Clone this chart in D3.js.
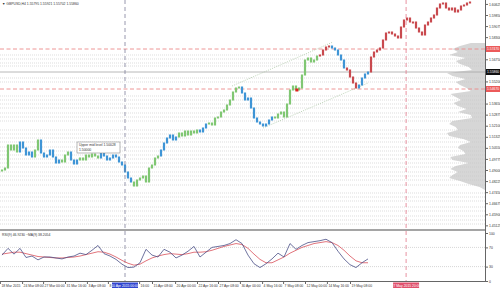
<!DOCTYPE html>
<html>
<head>
<meta charset="utf-8">
<script src="https://d3js.org/d3.v7.min.js"></script>
<style>
  body { margin: 0; background: #fff; }
  text { font-family: "Liberation Sans", Arial, sans-serif; }
</style>
</head>
<body>
<div id="chart"></div>
<script>
// H4 closes (real bars), one per bar
var closes = [
  1.4900, 1.4914, 1.5075, 1.5040, 1.5075, 1.5026, 1.5096, 1.5054, 1.5005, 1.5026,
  1.4991, 1.5040, 1.5110, 1.5019, 1.4991, 1.5005, 1.5040, 1.4991, 1.4949, 1.4970,
  1.4956, 1.5005, 1.5026, 1.4970, 1.4942, 1.4970, 1.4984, 1.4970, 1.5005, 1.4991,
  1.5012, 1.4998, 1.4984, 1.5019, 1.4998, 1.4970, 1.4984, 1.5005, 1.4991, 1.4956,
  1.4935, 1.4886, 1.4844, 1.4816, 1.4788, 1.4830, 1.4844, 1.4858, 1.4816, 1.4914,
  1.4935, 1.4984, 1.4998, 1.5040, 1.5089, 1.5124, 1.5145, 1.5110, 1.5131, 1.5159,
  1.5138, 1.5173, 1.5145, 1.5173, 1.5159, 1.5180, 1.5166, 1.5194, 1.5222, 1.5229,
  1.5215, 1.5264, 1.5271, 1.5306, 1.5320, 1.5355, 1.5390, 1.5446, 1.5474, 1.5481,
  1.5439, 1.5390, 1.5404, 1.5334, 1.5264, 1.5236, 1.5222, 1.5208, 1.5222, 1.5250,
  1.5271, 1.5264, 1.5292, 1.5306, 1.5271, 1.5362, 1.5460, 1.5488, 1.5460, 1.5474,
  1.5565, 1.5670, 1.5684, 1.5656, 1.5670, 1.5698, 1.5705, 1.5740, 1.5761, 1.5768,
  1.5754, 1.5740, 1.5705, 1.5670, 1.5614, 1.5600, 1.5551, 1.5509, 1.5474, 1.5495,
  1.5544, 1.5572, 1.5586
];
// projected bars drawn after the last real bar
var projection = [
  1.5691, 1.5726, 1.5740, 1.5754, 1.5810, 1.5859, 1.5866, 1.5852, 1.5838, 1.5824,
  1.5901, 1.5950, 1.5964, 1.5936, 1.5936, 1.5894, 1.5866, 1.5845, 1.5915, 1.5936,
  1.5964, 1.5985, 1.6034, 1.6062, 1.6069, 1.6034, 1.6020, 1.6034, 1.6006, 1.6020,
  1.6048, 1.6055, 1.6069, 1.6076
];
// trend state changes: [first bar index, state]
var trendSegments = [
  [0, "up"], [6, "down"], [11, "up"], [13, "down"], [20, "up"], [23, "down"],
  [26, "up"], [33, "down"], [44, "up"], [53, "down"], [59, "up"], [66, "down"],
  [69, "up"], [80, "down"], [91, "up"], [106, "alt"], [110, "down"], [115, "alt"],
  [119, "down"]
];

var rsi = [
  54, 68, 56, 68, 49, 52, 44, 50, 50, 48, 46, 50, 52, 58, 55, 64, 74, 57, 52, 45,
  35, 28, 29, 38, 66, 54, 50, 66, 60, 48, 54, 62, 72, 50, 60, 70, 72, 74, 78, 86,
  78, 54, 36, 28, 36, 46, 58, 50, 78, 66, 74, 80, 82, 84, 87, 80, 62, 46, 34, 28,
  38, 46
];
var rsiMa = [
  56, 58, 60, 60, 57, 54, 51, 50, 49, 48, 48, 49, 50, 52, 55, 58, 61, 60, 56, 50,
  43, 37, 33, 35, 42, 48, 52, 55, 57, 56, 55, 57, 60, 60, 61, 64, 68, 72, 75, 78,
  76, 68, 56, 45, 38, 38, 44, 50, 58, 64, 70, 74, 78, 80, 82, 80, 74, 64, 52, 42,
  38, 38
];
var rsiStep = 2; // one RSI sample every 2 bars
var rsiLevels = [70, 30];
var rsiTicks = [100, 70, 30, 0];

var priceTicks = [
  1.60625, 1.59850, 1.59075, 1.58300, 1.57525, 1.56750, 1.55975, 1.55200, 1.54425,
  1.53650, 1.52875, 1.52100, 1.51325, 1.50550, 1.49775, 1.49000, 1.48225, 1.47450,
  1.46675, 1.45900, 1.45125
];
// labels partly hidden behind the vertical-line time box show only their visible part
var timeTickIdx = [-0.7, 6.7, 13.7, 21, 28.3, 35.3, 45.7, 50, 57.7, 65, 72, 79.3, 86.7, 93.7, 101, 108.3, 116];
var timeLabels = [
  "18 Mar 2015", "24 Mar 08:00", "27 Mar 00:00", "31 Mar 16:00", "3 Apr 08:00",
  "8", "16:00", "15 Apr 08:00", "20 Apr 00:00", "22 Apr 16:00",
  "27 Apr 08:00", "30 Apr 00:00", "4 May 16:00", "7 May 08:00", "12 May 00:00",
  "14 May 16:00", "19 May 08:00"
];

var dottedLevels = [
  1.5705, 1.5677, 1.5649, 1.5628, 1.5544, 1.5516, 1.5418, 1.5390, 1.5362, 1.5334,
  1.5299, 1.5271, 1.5243, 1.5180, 1.5152, 1.5124, 1.5096, 1.5061, 1.5033, 1.5005,
  1.4977, 1.4949, 1.4921, 1.4886, 1.4858, 1.4830, 1.4795, 1.4739, 1.4711, 1.4683,
  1.4641, 1.4613, 1.4578, 1.4550, 1.4522
];
var redLevels = [1.5747, 1.5467];
var bidLevel = 1.5586;

var profilePrice = [
  1.5789, 1.5768, 1.5747, 1.5726, 1.5705, 1.5684, 1.5663, 1.5642, 1.5621, 1.5600,
  1.5579, 1.5558, 1.5537, 1.5516, 1.5495, 1.5474, 1.5453, 1.5432, 1.5411, 1.5390,
  1.5369, 1.5348, 1.5327, 1.5306, 1.5285, 1.5264, 1.5243, 1.5222, 1.5201, 1.5180,
  1.5159, 1.5138, 1.5117, 1.5096, 1.5075, 1.5054, 1.5033, 1.5012, 1.4991, 1.4970,
  1.4949, 1.4928, 1.4907, 1.4886, 1.4865, 1.4844, 1.4823, 1.4802, 1.4781, 1.4760
];
var profileCount = [
  13, 23, 30, 25, 33, 18, 27, 23, 15, 12, 35, 30, 18, 27, 23, 17, 13, 32, 27, 22,
  29, 25, 17, 25, 13, 12, 30, 33, 27, 25, 35, 33, 20, 13, 23, 25, 20, 18, 32, 30,
  15, 27, 32, 25, 30, 33, 23, 15, 5, 0
];

var channelUpper = [[76.7, 1.5488], [110.3, 1.5796]];
var channelLower = [[87, 1.5194], [122, 1.5509]];
var marker = [98.3, 1.5460];
var vLineIdx = [41, 134.7];
var vLineLabels = ["10 Apr 2015 00:00", "27 May 2015 20:00"];

var title = "\u25BC GBPUSD,H4  1.55795 1.55921 1.55702 1.55860";
var rsiTitle = "RSI(9) 46.9230  ~MA(9) 38.2054";
var note = ["Upper mid level 1.50028", "1.50000"];

// ---------------------------------------------------------------
var width = 500, height = 288,
    plotRight = 485, mainBottom = 229, rsiTop = 233, rsiBottom = 281,
    fs = 3.4;

var svg = d3.select("#chart").append("svg")
    .attr("width", width).attr("height", height);

var x = d3.scaleLinear().domain([0, 156]).range([2, 470]);
var y = d3.scaleLinear().domain([1.4487, 1.6090]).range([mainBottom, 0]);
var yr = d3.scaleLinear().domain([0, 100]).range([rsiBottom, rsiTop]);
var xp = d3.scaleLinear().domain([0, 35]).range([plotRight, plotRight - 38]);

var trendColor = d3.scaleOrdinal()
    .domain(["up", "down", "alt"])
    .range(["#80c773", "#3f95d6", "#c94a4f"]);

function trendAt(i) {
  var s = "up";
  trendSegments.forEach(function(t) { if (t[0] <= i) s = t[1]; });
  return s;
}

svg.append("clipPath").attr("id", "mainclip")
  .append("rect").attr("x", 0).attr("y", 0).attr("width", plotRight).attr("height", mainBottom);

var main = svg.append("g").attr("clip-path", "url(#mainclip)");

// volume profile
main.append("path")
  .datum(profilePrice.map(function(p, i) { return [p, profileCount[i]]; }))
  .attr("fill", "#d6d6d6")
  .attr("d", d3.area()
    .y(function(d) { return y(d[0]); })
    .x0(plotRight)
    .x1(function(d) { return xp(d[1]); }));

// dotted levels
main.selectAll(".lvl").data(dottedLevels).enter().append("line")
  .attr("x1", 0).attr("x2", plotRight)
  .attr("y1", function(d) { return y(d); }).attr("y2", function(d) { return y(d); })
  .attr("stroke", "#c6c6c6").attr("stroke-width", 0.6).attr("stroke-dasharray", "1,1");

// bid line
main.append("line")
  .attr("x1", 0).attr("x2", plotRight).attr("y1", y(bidLevel)).attr("y2", y(bidLevel))
  .attr("stroke", "#a6a6a6").attr("stroke-width", 0.8);

// red dashed levels
main.selectAll(".red").data(redLevels).enter().append("line")
  .attr("x1", 0).attr("x2", plotRight)
  .attr("y1", function(d) { return y(d); }).attr("y2", function(d) { return y(d); })
  .attr("stroke", "#ec8a8a").attr("stroke-width", 0.9).attr("stroke-dasharray", "4,2.5");

// channel
[channelUpper, channelLower].forEach(function(c) {
  main.append("line")
    .attr("x1", x(c[0][0])).attr("y1", y(c[0][1]))
    .attr("x2", x(c[1][0])).attr("y2", y(c[1][1]))
    .attr("stroke", "#9fbf98").attr("stroke-width", 0.7).attr("stroke-dasharray", "1,1.3");
});

// vertical lines
svg.selectAll(".vl").data(vLineIdx).enter().append("line")
  .attr("x1", function(d) { return x(d); }).attr("x2", function(d) { return x(d); })
  .attr("y1", 0).attr("y2", rsiBottom)
  .attr("stroke", function(d, i) { return i ? "#e2778a" : "#7f7f9a"; })
  .attr("stroke-width", 0.8).attr("stroke-dasharray", "4,3");

// bars
var bars = closes.map(function(c, i) {
  return { i: i, open: i ? closes[i - 1] : c, close: c, trend: trendAt(i) };
});
projection.forEach(function(c, k) {
  bars.push({ i: closes.length + k,
              open: k ? projection[k - 1] : closes[closes.length - 1],
              close: c, trend: "alt" });
});

main.selectAll(".bar").data(bars).enter().append("rect")
  .attr("x", function(d) { return x(d.i) - 1.1; })
  .attr("width", 2.2)
  .attr("y", function(d) { return y(Math.max(d.open, d.close)) - 0.5; })
  .attr("height", function(d) { return Math.max(1, Math.abs(y(d.open) - y(d.close))) + 1; })
  .attr("fill", function(d) { return trendColor(d.trend); });

main.append("rect")
  .attr("x", x(marker[0]) - 1.5).attr("y", y(marker[1]) - 1.5)
  .attr("width", 3).attr("height", 3).attr("fill", "#e02020");

// note box
var nb = main.append("g").attr("transform", "translate(" + x(25) + "," + y(1.5096) + ")");
nb.append("rect").attr("width", 43).attr("height", 11)
  .attr("fill", "#fff").attr("stroke", "#8a8a8a").attr("stroke-width", 0.6);
nb.selectAll("text").data(note).enter().append("text")
  .attr("x", 2).attr("y", function(d, i) { return 4.3 + i * 4.3; })
  .attr("font-size", fs).attr("fill", "#333").text(function(d) { return d; });

// title
svg.append("text").attr("x", 2).attr("y", 5).attr("font-size", fs).attr("fill", "#333").text(title);

// separator
svg.append("rect").attr("x", 0).attr("y", mainBottom).attr("width", plotRight).attr("height", 2)
  .attr("fill", "#a5a5a5");

// RSI panel
svg.selectAll(".rl").data(rsiLevels).enter().append("line")
  .attr("x1", 0).attr("x2", plotRight)
  .attr("y1", function(d) { return yr(d); }).attr("y2", function(d) { return yr(d); })
  .attr("stroke", "#bbbbbb").attr("stroke-width", 0.6).attr("stroke-dasharray", "1,1");

svg.append("path").datum(rsiMa)
  .attr("fill", "none").attr("stroke", "#d9505a").attr("stroke-width", 0.8)
  .attr("d", d3.line().x(function(d, k) { return x(k * rsiStep); }).y(function(d) { return yr(d); }));
svg.append("path").datum(rsi)
  .attr("fill", "none").attr("stroke", "#4a4f86").attr("stroke-width", 0.8)
  .attr("d", d3.line().x(function(d, k) { return x(k * rsiStep); }).y(function(d) { return yr(d); }));

svg.append("text").attr("x", 2).attr("y", rsiTop + 3).attr("font-size", fs).attr("fill", "#333").text(rsiTitle);

// frame
svg.append("line").attr("x1", plotRight + 0.5).attr("x2", plotRight + 0.5).attr("y1", 0).attr("y2", rsiBottom)
  .attr("stroke", "#666").attr("stroke-width", 1);
svg.append("line").attr("x1", 0).attr("x2", plotRight + 1).attr("y1", rsiBottom + 0.5).attr("y2", rsiBottom + 0.5)
  .attr("stroke", "#666").attr("stroke-width", 1);

// price axis
var specials = [
  { p: redLevels[0], c: "#ec5a5a" }, { p: bidLevel, c: "#111" }, { p: redLevels[1], c: "#ec5a5a" }
];
var shownTicks = priceTicks.filter(function(t) {
  return specials.every(function(s) { return Math.abs(y(t) - y(s.p)) > 6; });
});
var pa = svg.append("g").attr("transform", "translate(" + (plotRight + 1) + ",0)")
  .call(d3.axisRight(y).tickValues(shownTicks).tickFormat(d3.format(".5f")).tickSize(2).tickPadding(1));
pa.select(".domain").remove();
pa.selectAll("line").attr("stroke", "#666");
pa.selectAll("text").attr("font-size", fs).attr("fill", "#333").attr("font-family", null);

specials.forEach(function(s) {
  svg.append("rect").attr("x", plotRight + 1).attr("y", y(s.p) - 3).attr("width", 14).attr("height", 6)
    .attr("fill", s.c);
  svg.append("text").attr("x", plotRight + 2).attr("y", y(s.p) + 1.2).attr("font-size", fs)
    .attr("fill", "#fff").text(d3.format(".5f")(s.p));
});

var ra = svg.append("g").attr("transform", "translate(" + (plotRight + 1) + ",0)")
  .call(d3.axisRight(yr).tickValues(rsiTicks).tickSize(2).tickPadding(1));
ra.select(".domain").remove();
ra.selectAll("line").attr("stroke", "#666");
ra.selectAll("text").attr("font-size", fs).attr("fill", "#333").attr("font-family", null);

// time axis
var ta = svg.append("g").attr("transform", "translate(0," + (rsiBottom + 1) + ")")
  .call(d3.axisBottom(x).tickValues(timeTickIdx)
    .tickFormat(function(d, i) { return timeLabels[i]; }).tickSize(2).tickPadding(0.5));
ta.select(".domain").remove();
ta.selectAll("line").attr("stroke", "#666");
ta.selectAll("text").attr("font-size", fs).attr("fill", "#333").attr("font-family", null)
  .attr("text-anchor", "start").attr("x", 1);

vLineIdx.forEach(function(v, i) {
  svg.append("rect").attr("x", x(v) - 13).attr("y", rsiBottom + 1.5).attr("width", 26).attr("height", 5.5)
    .attr("fill", i ? "#e0506c" : "#3146d0");
  svg.append("text").attr("x", x(v)).attr("y", rsiBottom + 5.6).attr("text-anchor", "middle")
    .attr("font-size", fs).attr("fill", "#fff").text(vLineLabels[i]);
});
</script>
</body>
</html>
